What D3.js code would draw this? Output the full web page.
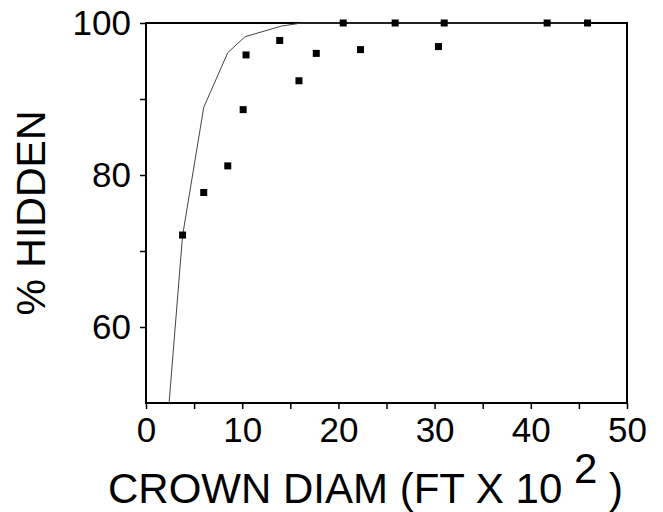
<!DOCTYPE html>
<html>
<head>
<meta charset="utf-8">
<script src="https://cdn.jsdelivr.net/npm/d3@7"></script>
<style>
  html, body { margin: 0; padding: 0; background: #fff; }
  svg text { font-family: "Liberation Sans", Arial, sans-serif; fill: #000; }
</style>
</head>
<body>
<svg id="chart" width="663" height="512"></svg>
<script>
// Observed points
const obsX = [3.8, 6.0, 8.5, 10.1, 10.4, 13.9, 15.9, 17.7, 20.5, 22.3, 25.9, 30.4, 31.0, 41.7, 45.9];
const obsY = [72.1, 77.7, 81.2, 88.6, 95.8, 97.7, 92.4, 96.0, 100, 96.5, 100, 96.9, 100, 100, 100];
// Fitted curve
const fitX = [2.4, 3.8, 6.0, 8.5, 10.3, 14.1, 16.2, 20.5, 25.9, 31.0, 41.7, 46.0];
const fitY = [50, 72.0, 88.9, 96.1, 98.2, 99.6, 100, 100, 100, 100, 100, 100];
// Ticks
const xTicks = [0, 10, 20, 30, 40, 50];
const xMinor = [5, 15, 25, 35, 45];
const yTicks = [60, 80, 100];
const yMinor = [70, 90];
const xTitle = "CROWN DIAM (FT X 10";
const xTitleSup = "2";
const yTitle = "% HIDDEN";

const svg = d3.select("#chart");
const x = d3.scaleLinear().domain([0, 50]).range([146, 627]);
const y = d3.scaleLinear().domain([50, 100]).range([403, 23]);

// frame
svg.append("rect")
  .attr("x", x(0)).attr("y", y(100))
  .attr("width", x(50) - x(0)).attr("height", y(50) - y(100))
  .attr("fill", "none").attr("stroke", "#000").attr("stroke-width", 2);

// x axis
const xAxis = d3.axisBottom(x).tickValues(xTicks).tickSize(6).tickPadding(8).tickFormat(d3.format("d"));
const gx = svg.append("g").attr("transform", `translate(0,${y(50)})`).call(xAxis);
gx.select(".domain").remove();
gx.selectAll(".tick line").attr("stroke", "#000").attr("stroke-width", 1.5);
gx.selectAll(".tick text").attr("font-size", 35).attr("font-family", "Liberation Sans, Arial, sans-serif");
const gxm = svg.append("g").attr("transform", `translate(0,${y(50)})`)
  .call(d3.axisBottom(x).tickValues(xMinor).tickSize(6).tickFormat(""));
gxm.select(".domain").remove();
gxm.selectAll(".tick line").attr("stroke", "#000").attr("stroke-width", 1.5);

// y axis
const yAxis = d3.axisLeft(y).tickValues(yTicks).tickSize(6).tickPadding(9).tickFormat(d3.format("d"));
const gy = svg.append("g").attr("transform", `translate(${x(0)},0)`).call(yAxis);
gy.select(".domain").remove();
gy.selectAll(".tick line").attr("stroke", "#000").attr("stroke-width", 1.5);
gy.selectAll(".tick text").attr("font-size", 35).attr("font-family", "Liberation Sans, Arial, sans-serif");
const gym = svg.append("g").attr("transform", `translate(${x(0)},0)`)
  .call(d3.axisLeft(y).tickValues(yMinor).tickSize(6).tickFormat(""));
gym.select(".domain").remove();
gym.selectAll(".tick line").attr("stroke", "#000").attr("stroke-width", 1.5);

// fitted curve
const line = d3.line().x((d, i) => x(fitX[i])).y((d, i) => y(fitY[i]));
svg.append("path")
  .datum(fitX)
  .attr("d", line)
  .attr("fill", "none").attr("stroke", "#444").attr("stroke-width", 1);

// points
const s = 7;
svg.append("g").selectAll("rect")
  .data(obsX)
  .join("rect")
  .attr("x", (d) => x(d) - s / 2)
  .attr("y", (d, i) => y(obsY[i]) - s / 2)
  .attr("width", s).attr("height", s)
  .attr("fill", "#000");

// x title
const xt = svg.append("text")
  .attr("x", 108).attr("y", 503)
  .attr("font-size", 42);
xt.append("tspan").text(xTitle + " ");
xt.append("tspan").attr("dy", -20).text(xTitleSup);
xt.append("tspan").attr("dy", 20).text(" )");

// y title
svg.append("text")
  .attr("transform", "translate(45,213) rotate(-90)")
  .attr("text-anchor", "middle")
  .attr("font-size", 41)
  .text(yTitle);
</script>
</body>
</html>
